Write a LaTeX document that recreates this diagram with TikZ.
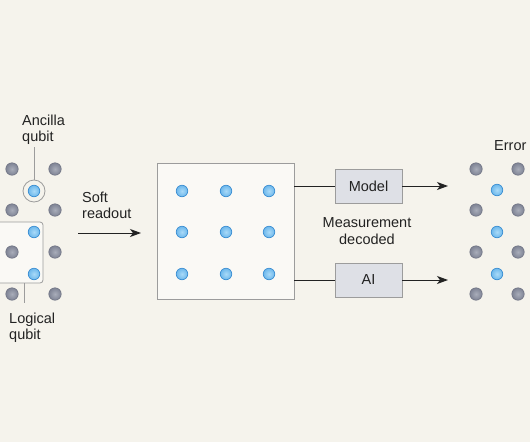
\documentclass[tikz,border=0pt]{standalone}
\usepackage{fontspec}
\setmainfont{Liberation Sans}
\usetikzlibrary{arrows.meta}
\definecolor{bg}{HTML}{F5F3EC}
\definecolor{txt}{HTML}{222222}
\definecolor{edge}{HTML}{9C9C9C}
\definecolor{boxfill}{HTML}{DEE0E6}
\definecolor{gridfill}{HTML}{FAF9F5}
\definecolor{dotgray}{HTML}{7E8394}
\definecolor{dotlight}{HTML}{A9ADBA}
\definecolor{dotedge}{HTML}{6E7282}
\definecolor{bluefill}{HTML}{6DB8EC}
\definecolor{bluelight}{HTML}{A9DAF8}
\definecolor{blueedge}{HTML}{3A8ED2}

\tikzset{
  gdot/.style={circle, inner sep=0pt, minimum size=12.5pt, draw=dotedge, line width=0.5pt, inner color=dotlight, outer color=dotgray},
  bdot/.style={circle, inner sep=0pt, minimum size=11.5pt, draw=blueedge, line width=0.7pt, inner color=bluelight, outer color=bluefill},
  lbl/.style={font=\fontsize{14.5}{16.5}\selectfont, text=txt, inner sep=0pt},
  blk/.style={lbl, draw=edge, fill=boxfill, line width=0.8pt, minimum width=67pt, minimum height=34pt},
  link/.style={line width=0.9pt, draw=txt},
  leader/.style={line width=0.8pt, draw=edge},
  arr/.style={link, -{Stealth[length=11pt,width=8pt,inset=3pt]}}
}

\begin{document}
\begin{tikzpicture}[x=1pt, y=-1pt]
  \useasboundingbox (0,0) rectangle (530,442);
  \fill[bg] (0,0) rectangle (530,442);

  % left lattice
  \node[draw=edge, fill=gridfill, line width=0.8pt, rounded corners=3pt, minimum width=50pt, minimum height=61pt] (logic) at (18,252.5) {};
  \foreach \y [count=\j] in {169,210,252,294} {
    \node[gdot] (la\j) at (12,\y) {};
    \node[gdot] (lb\j) at (55,\y) {};
  }
  \foreach \y [count=\j] in {191,232,274}
    \node[bdot] (lq\j) at (34,\y) {};
  \node[circle, draw=edge, line width=0.8pt, minimum size=22pt, inner sep=0pt] (ring) at (lq1) {};

  \node[lbl, anchor=north west, align=left] (anc) at (22,114.5) {Ancilla\\qubit};
  \coordinate (ancend) at (34,147);
  \draw[leader] (ring.north) -- (ancend);
  \node[lbl, anchor=north west, align=left] (logt) at (9,312.5) {Logical\\qubit};
  \coordinate (logend) at (24,303);
  \draw[leader] (logic.south -| logend) -- (logend);

  % soft readout
  \node[lbl, anchor=north west, align=left] (soft) at (82,191.5) {Soft\\readout};
  \coordinate (srin) at (78,233);
  \coordinate (srout) at (141,233);
  \draw[arr] (srin) -- (srout);

  % measured grid
  \node[draw=edge, fill=gridfill, line width=0.8pt, minimum width=137pt, minimum height=136pt] (grid) at (225.5,231) {};
  \foreach \x [count=\i] in {182,226,269}
    \foreach \y [count=\j] in {191,232,274}
      \node[bdot] (g\i\j) at (\x,\y) {};

  % decoders
  \node[blk] (model) at (368.5,186) {Model};
  \node[blk] (ai) at (368.5,280) {AI};
  \node[lbl, align=center, anchor=north] (meas) at (367,217.5) {Measurement\\decoded};
  \coordinate (mout) at (448,186);
  \coordinate (aout) at (448,280);
  \draw[link] (grid.east |- model) -- (model.west);
  \draw[link] (grid.east |- ai) -- (ai.west);
  \draw[arr] (model.east) -- (mout);
  \draw[arr] (ai.east) -- (aout);

  % right lattice
  \foreach \y [count=\j] in {169,210,252,294} {
    \node[gdot] (ra\j) at (476,\y) {};
    \node[gdot] (rb\j) at (518,\y) {};
  }
  \foreach \y [count=\j] in {190,232,274}
    \node[bdot] (rq\j) at (497,\y) {};
  \node[lbl, anchor=base west] (err) at (494,150) {Error};
\end{tikzpicture}
\end{document}
